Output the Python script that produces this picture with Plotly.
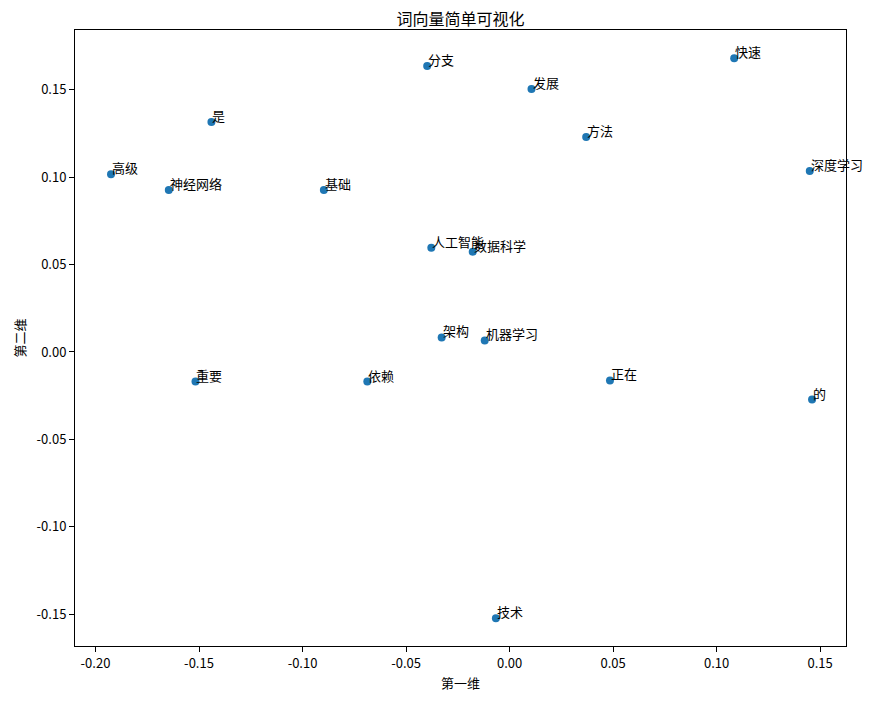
import plotly.graph_objects as go

words = ["高级", "神经网络", "是", "基础", "分支", "发展", "快速", "方法", "深度学习",
         "人工智能", "数据科学", "架构", "机器学习", "重要", "依赖", "正在", "的", "技术"]
xs = [-0.1925, -0.1646, -0.1440, -0.0897, -0.0398, 0.0106, 0.1085, 0.0370, 0.1450,
      -0.0378, -0.0178, -0.0328, -0.0120, -0.1517, -0.0687, 0.0485, 0.1461, -0.0066]
ys = [0.1017, 0.0927, 0.1316, 0.0927, 0.1637, 0.1505, 0.1681, 0.1230, 0.1036,
      0.0597, 0.0574, 0.0083, 0.0066, -0.0169, -0.0169, -0.0163, -0.0272, -0.1524]
x_ticks = [-0.20, -0.15, -0.10, -0.05, 0.00, 0.05, 0.10, 0.15]
y_ticks = [-0.15, -0.10, -0.05, 0.00, 0.05, 0.10, 0.15]

FONT = "Noto Sans CJK SC, Microsoft YaHei, sans-serif"

fig = go.Figure()
fig.add_trace(go.Scatter(x=xs, y=ys, mode="markers",
                         marker=dict(color="#1f77b4", size=8, line=dict(width=0)),
                         hoverinfo="skip", showlegend=False))
for w, x, y in zip(words, xs, ys):
    fig.add_annotation(x=x, y=y, text=w, showarrow=False, xanchor="left", yanchor="bottom",
                       xshift=-1, yshift=-5, font=dict(family=FONT, size=13, color="black"))

axis_common = dict(showgrid=False, zeroline=False, showline=True, linecolor="black", linewidth=1,
                   mirror=True, ticks="outside", ticklen=5, tickcolor="black",
                   tickfont=dict(family=FONT, size=13, color="black"))
fig.update_xaxes(range=[-0.2099, 0.1625], tickvals=x_ticks,
                 ticktext=[f"{v:.2f}" for v in x_ticks],
                 title=dict(text="第一维", font=dict(family=FONT, size=13, color="black"), standoff=8),
                 **axis_common)
fig.update_yaxes(range=[-0.1683, 0.1843], tickvals=y_ticks,
                 ticktext=[f"{v:.2f}" for v in y_ticks],
                 title=dict(text="第二维", font=dict(family=FONT, size=13, color="black"), standoff=8),
                 **axis_common)
fig.update_layout(width=867, height=693, plot_bgcolor="white", paper_bgcolor="white",
                  margin=dict(l=63, r=29, t=22, b=55),
                  title=dict(text="词向量简单可视化", x=0.5, xref="paper", xanchor="center",
                             y=1, yref="paper", yanchor="bottom", pad=dict(b=5),
                             font=dict(family=FONT, size=16, color="black")))
fig.write_html("out.html")
